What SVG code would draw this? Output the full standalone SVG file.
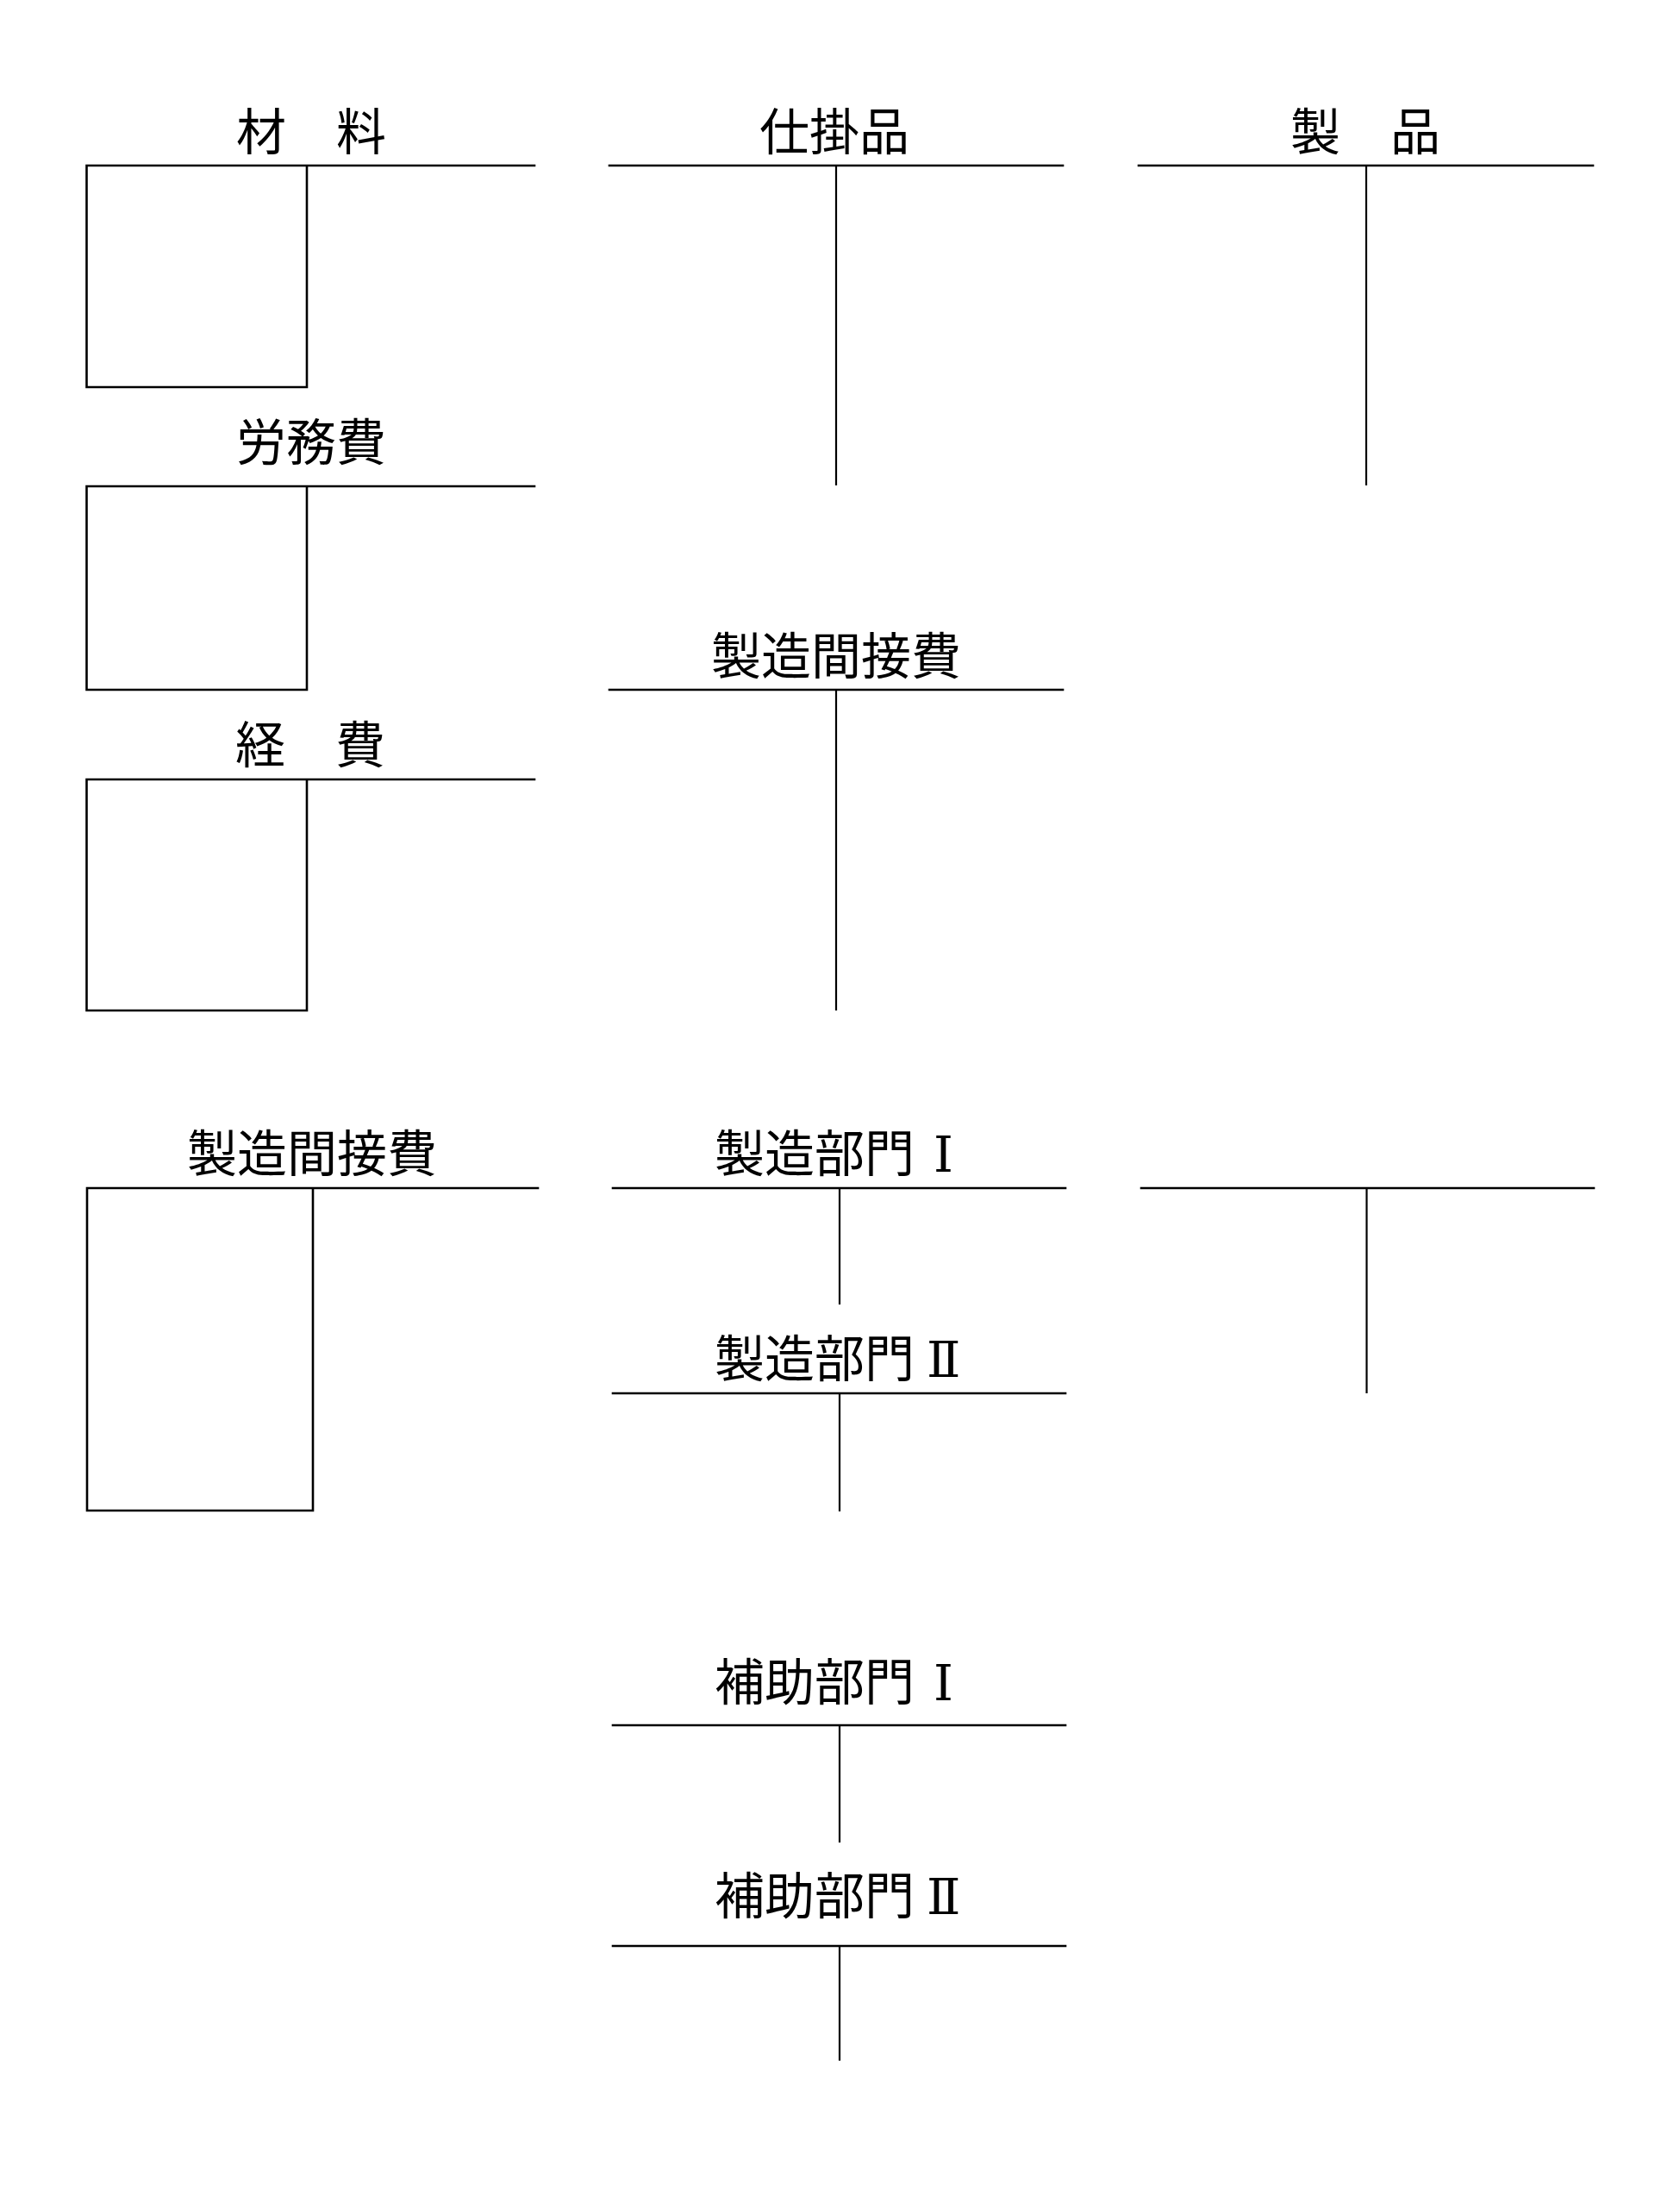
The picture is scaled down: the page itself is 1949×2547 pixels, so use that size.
<svg xmlns="http://www.w3.org/2000/svg" width="1949" height="2547" viewBox="0 0 1949 2547">
<style>
.ln{stroke:#000;stroke-width:2.6;fill:none;stroke-linecap:square}
.v{stroke:#000;stroke-width:2.2;fill:none}
.t{font-family:"Liberation Serif","Noto Sans CJK JP",serif;font-size:58px;fill:#000}
.m{text-anchor:middle}
.n{font-family:"DejaVu Serif","Liberation Serif","Noto Sans CJK JP",serif}
</style>
<rect width="1949" height="2547" fill="#fff"/>
<g id="zairyo">
<text class="t m" x="361" y="174">材　料</text>
<path class="ln" d="M100.5 192H620M100.5 192V449H356M356 192V449"/>
</g>
<g id="romuhi">
<text class="t m" x="361" y="534">労務費</text>
<path class="ln" d="M100.5 564H620M100.5 564V800H356M356 564V800"/>
</g>
<g id="keihi">
<text class="t m" x="360" y="885">経　費</text>
<path class="ln" d="M100.5 904H620M100.5 904V1172H356M356 904V1172"/>
</g>
<g id="shikakari">
<text class="t m" x="968" y="174">仕掛品</text>
<path class="ln" d="M707 192H1233"/>
<path class="v" d="M970 192V563"/>
</g>
<g id="seihin">
<text class="t m" x="1584" y="174">製　品</text>
<path class="ln" d="M1321 192H1848"/>
<path class="v" d="M1585 192V563"/>
</g>
<g id="seizokansetsuhi1">
<text class="t m" x="970" y="782">製造間接費</text>
<path class="ln" d="M707 800H1233"/>
<path class="v" d="M970 800V1172"/>
</g>
<g id="seizokansetsuhi2">
<text class="t m" x="362" y="1359">製造間接費</text>
<path class="ln" d="M101 1378H624M101 1378V1752H363M363 1378V1752"/>
</g>
<g id="seizobumon1">
<text class="t" x="829" y="1359">製造部門<tspan class="n" x="1083">Ⅰ</tspan></text>
<path class="ln" d="M711 1378H1236"/>
<path class="v" d="M974 1378V1513"/>
</g>
<g id="seizobumon2">
<text class="t" x="829" y="1597">製造部門<tspan class="n" x="1075">Ⅱ</tspan></text>
<path class="ln" d="M711 1616H1236"/>
<path class="v" d="M974 1616V1753"/>
</g>
<g id="blank">
<path class="ln" d="M1324 1378H1849"/>
<path class="v" d="M1585.5 1378V1616"/>
</g>
<g id="hojobumon1">
<text class="t" x="829" y="1972">補助部門<tspan class="n" x="1083">Ⅰ</tspan></text>
<path class="ln" d="M711 2001H1236"/>
<path class="v" d="M974 2001V2137"/>
</g>
<g id="hojobumon2">
<text class="t" x="829" y="2220">補助部門<tspan class="n" x="1075">Ⅱ</tspan></text>
<path class="ln" d="M711 2257H1236"/>
<path class="v" d="M974 2257V2390"/>
</g>
<g id="connectors"></g>
</svg>
